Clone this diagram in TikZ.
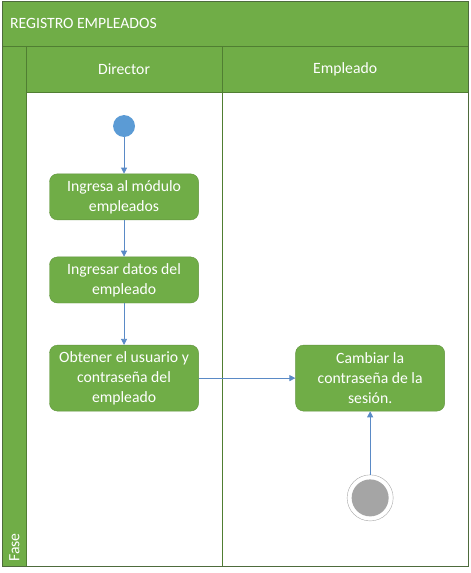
\documentclass[tikz,border=0pt]{standalone}
\usepackage{fontspec}
\setmainfont{Carlito}
\usepackage{tikz}
\usetikzlibrary{arrows.meta, positioning}
\definecolor{verde}{HTML}{70AD47}
\definecolor{verdeosc}{HTML}{507E32}
\definecolor{marco}{HTML}{4E6B3C}
\definecolor{azul}{HTML}{5B9BD5}
\definecolor{flecha}{HTML}{5A8AC6}
\definecolor{gris}{HTML}{A5A5A5}

\begin{document}
\begin{tikzpicture}[
    actividad/.style={draw=verde!85!black, fill=verde, rounded corners=8pt, minimum width=5.24cm, minimum height=1.62cm, align=center, text=white, inner sep=2pt, font=\fontsize{15.7}{20}\selectfont},
    cabecera/.style={text=white, inner sep=0pt, font=\fontsize{15.7}{18}\selectfont},
    flujo/.style={-{Triangle[length=6pt, width=6pt]}, draw=flecha, line width=0.8pt},
]
    \useasboundingbox (0,0) rectangle (16.52,-20.14);

    % Franjas y carriles
    \fill[verde] (0.105,-0.07) rectangle (16.45,-1.617);
    \fill[verde] (0.105,-1.617) rectangle (0.914,-19.895);
    \fill[verde] (0.914,-1.617) rectangle (16.45,-3.234);
    \draw[verdeosc, line width=0.8pt] (0.105,-1.617) -- (16.45,-1.617);
    \draw[verdeosc, line width=0.8pt] (0.914,-1.617) -- (0.914,-19.895);
    \draw[verdeosc, line width=0.8pt] (0.914,-3.234) -- (16.45,-3.234);
    \draw[verdeosc, line width=0.8pt] (7.80,-1.617) -- (7.80,-19.895);
    \draw[marco, line width=1pt] (0.105,-0.07) rectangle (16.45,-19.895);

    \node[cabecera, anchor=west] (titulo) at (0.35,-0.81) {REGISTRO EMPLEADOS};
    \node[cabecera] (director) at (4.36,-2.43) {Director};
    \node[cabecera] (empleado) at (12.13,-2.43) {Empleado};
    \node[cabecera, rotate=90, anchor=west] (fase) at (0.51,-19.75) {Fase};

    % Director
    \node[circle, fill=azul, minimum size=0.77cm, inner sep=0pt] (inicio) at (4.36,-4.43) {};
    \node[actividad] (ingresa) at (4.36,-6.92) {Ingresa al módulo\\empleados};
    \node[actividad] (datos) at (4.36,-9.84) {Ingresar datos del\\empleado};
    \node[actividad, minimum height=2.32cm] (obtener) at (4.36,-13.29) {Obtener el usuario y\\contraseña del\\empleado};
    \draw[flujo] (inicio) -- (ingresa);
    \draw[flujo] (ingresa) -- (datos);
    \draw[flujo] (datos) -- (obtener);

    % Empleado
    \node[actividad, minimum height=2.32cm] (cambiar) at (13.01,-13.29) {Cambiar la\\contraseña de la\\sesión.};
    \node[circle, draw=gris, fill=white, minimum size=1.62cm, inner sep=0pt] (fin) at (13.01,-17.50) {};
    \node[circle, fill=gris, minimum size=1.3cm, inner sep=0pt] (finint) at (fin) {};
    \draw[flujo] (obtener) -- (cambiar);
    \draw[flujo] (fin) -- (cambiar);
\end{tikzpicture}
\end{document}
